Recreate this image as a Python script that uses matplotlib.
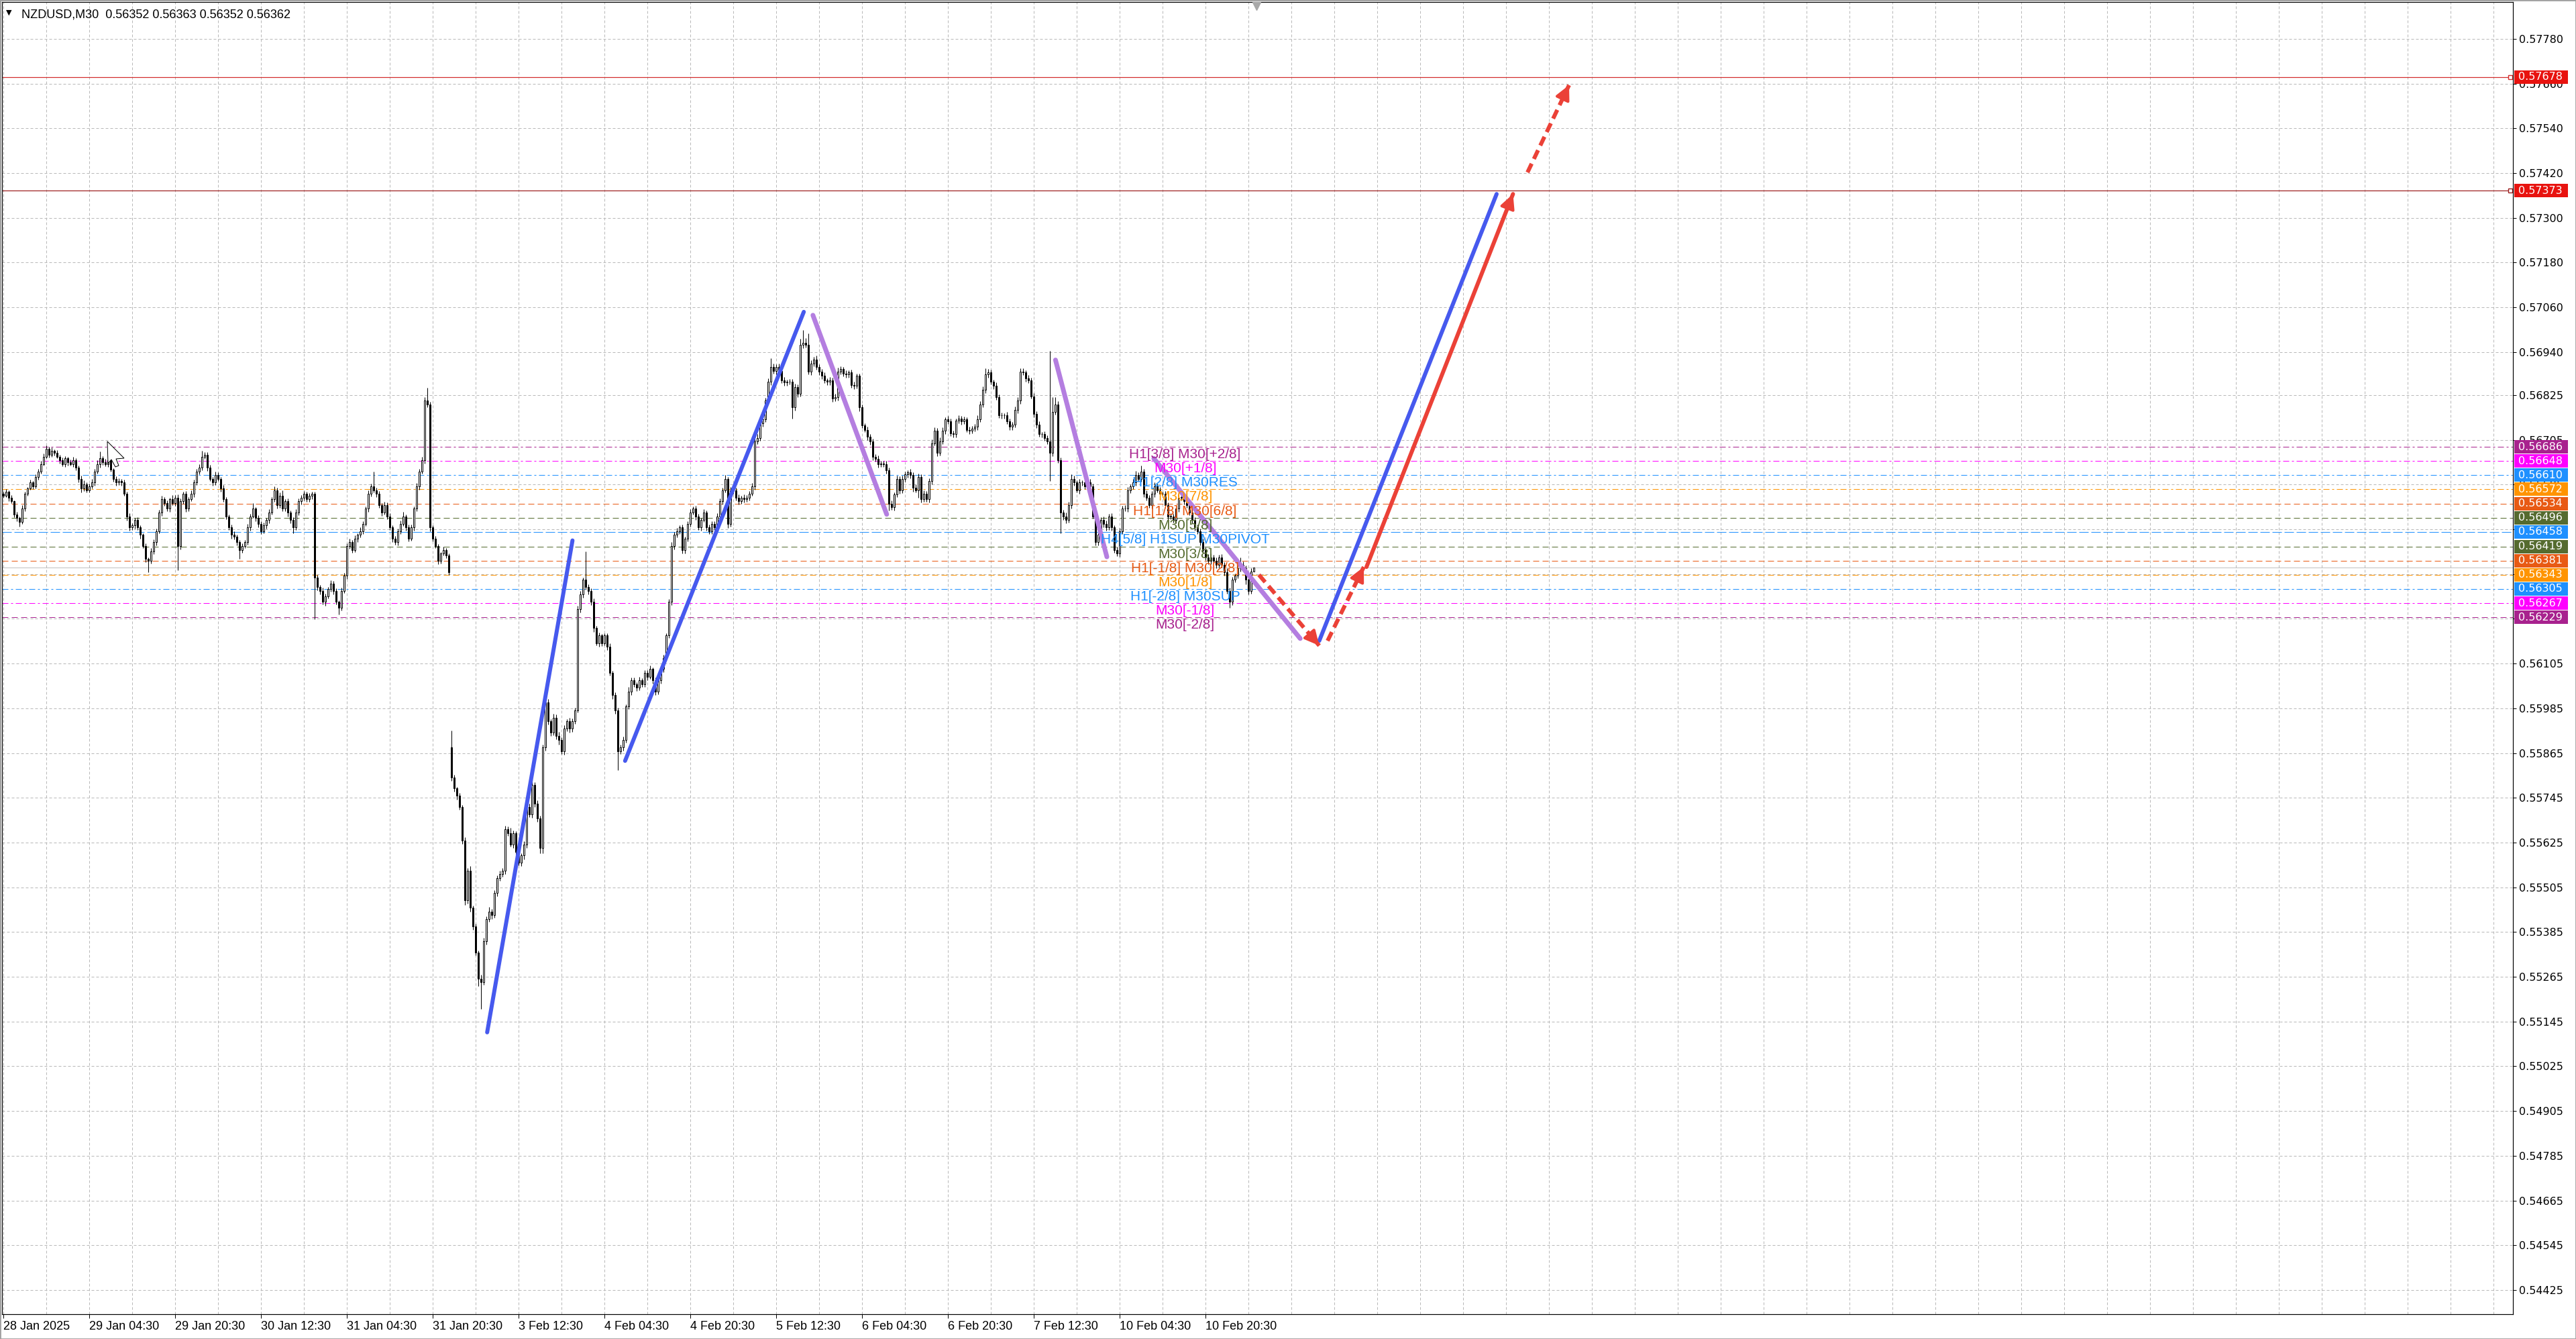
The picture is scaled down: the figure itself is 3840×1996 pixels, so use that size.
import numpy as np
import matplotlib
matplotlib.use("Agg")
import matplotlib.pyplot as plt
from matplotlib.patches import Rectangle, Polygon
from matplotlib.transforms import blended_transform_factory

# ---- data (prices in points, 1 pt = 0.00001) ----
closes_pts = [
    56555, 56565, 56550, 56540, 56505, 56495, 56485, 56520, 56560, 56575, 56590, 56580, 56605, 56620, 56640, 56660,
    56680, 56665, 56675, 56670, 56660, 56650, 56640, 56655, 56645, 56640, 56650, 56630, 56600, 56575, 56585, 56570,
    56580, 56590, 56620, 56640, 56655, 56645, 56640, 56650, 56625, 56600, 56590, 56595, 56590, 56560, 56500, 56470,
    56475, 56490, 56470, 56450, 56420, 56385, 56380, 56405, 56430, 56460, 56510, 56545, 56535, 56520, 56545, 56535,
    56550, 56420, 56540, 56560, 56520, 56545, 56560, 56590, 56620, 56630, 56660, 56665, 56630, 56600, 56590, 56610,
    56600, 56575, 56545, 56500, 56470, 56450, 56445, 56430, 56410, 56420, 56430, 56470, 56500, 56520, 56495, 56480,
    56460, 56475, 56490, 56510, 56545, 56570, 56530, 56555, 56520, 56540, 56510, 56490, 56470, 56510, 56540, 56550,
    56560, 56545, 56555, 56560, 56335, 56310, 56300, 56270, 56285, 56305, 56320, 56300, 56270, 56255, 56300, 56340,
    56420, 56430, 56410, 56440, 56450, 56460, 56480, 56520, 56560, 56580, 56570, 56560, 56530, 56510, 56530, 56500,
    56470, 56440, 56430, 56460, 56480, 56500, 56470, 56440, 56470, 56520, 56580, 56620, 56650, 56810, 56800, 56470,
    56440, 56420, 56380, 56400, 56410, 56395, 56350, 55800, 55770, 55750, 55720, 55630, 55470, 55550, 55450, 55400,
    55330, 55260, 55250, 55360, 55420, 55440, 55430, 55490, 55530, 55540, 55550, 55660, 55650, 55620, 55650, 55600,
    55570, 55590, 55620, 55720, 55700, 55780, 55730, 55690, 55610, 55880, 56000, 55950, 55920, 55960, 55910, 55900,
    55870, 55930, 55950, 55930, 55950, 55980, 56250, 56290, 56330, 56310, 56300, 56270, 56200, 56160, 56180, 56160,
    56180, 56150, 56080, 56020, 55980, 55870, 55880, 55900, 55990, 56030, 56060, 56050, 56040, 56060, 56050, 56080,
    56070, 56090, 56060, 56030, 56060, 56090, 56120, 56180, 56270, 56420, 56450, 56460, 56470, 56410, 56440, 56480,
    56510, 56520, 56500, 56470, 56490, 56510, 56470, 56460, 56480, 56470, 56500, 56540, 56570, 56600, 56480, 56570,
    56570, 56550, 56540, 56550, 56545, 56550, 56560, 56580, 56700, 56710, 56750, 56760, 56810, 56860, 56900, 56890,
    56900, 56890, 56864, 56858, 56860, 56860, 56792, 56846, 56828, 56960, 56965, 56960, 56888, 56910, 56920, 56900,
    56888, 56876, 56864, 56860, 56865, 56816, 56820, 56888, 56894, 56882, 56880, 56885, 56852, 56850, 56876, 56792,
    56744, 56732, 56714, 56700, 56660, 56654, 56640, 56642, 56640, 56624, 56534, 56525, 56558, 56600, 56570, 56600,
    56612, 56618, 56610, 56576, 56570, 56606, 56546, 56560, 56546, 56594, 56696, 56730, 56670, 56700, 56730, 56760,
    56755, 56722, 56720, 56756, 56762, 56755, 56760, 56732, 56730, 56735, 56740, 56760, 56800, 56840, 56880, 56885,
    56860, 56850, 56820, 56770, 56770, 56770, 56755, 56740, 56745, 56785, 56810, 56888, 56885, 56870, 56865, 56822,
    56775, 56745, 56720, 56720, 56710, 56700, 56670, 56780, 56800, 56650, 56510, 56500, 56490, 56530, 56600, 56590,
    56570, 56590, 56590, 56580, 56590, 56580, 56500, 56430, 56450, 56490, 56480, 56470, 56500, 56470, 56410, 56400,
    56460, 56520, 56520, 56570, 56580, 56590, 56610, 56600, 56620, 56560, 56550, 56530, 56560, 56580, 56570, 56560,
    56560, 56530, 56500, 56500, 56490, 56520, 56550, 56550, 56540, 56530, 56510, 56490, 56470, 56460, 56430, 56410,
    56390, 56380, 56390, 56380, 56370, 56390, 56370, 56350, 56300, 56270, 56330, 56340, 56360, 56370, 56360, 56330,
    56300, 56352, 56362,
]
first_open = 56560
gap_opens = {167: 55880, 466: 56352}

wick_up = [
    5, 8, 4, 6, 3, 7, 5, 9, 6, 4, 8, 5, 7, 6, 9, 8,
    10, 6, 9, 4, 7, 5, 8, 6, 4, 7, 9, 5, 6, 8, 12, 5,
    7, 9, 6, 10, 18, 6, 8, 5, 9, 4, 7, 6, 5, 8, 6, 9,
    7, 5, 8, 6, 4, 7, 5, 9, 8, 6, 7, 10, 6, 8, 5, 12,
    6, 9, 8, 5, 7, 6, 9, 8, 6, 10, 15, 7, 6, 8, 5, 9,
    7, 5, 8, 6, 4, 7, 9, 5, 6, 8, 7, 10, 6, 15, 5, 7,
    6, 8, 5, 9, 7, 10, 6, 8, 14, 5, 7, 6, 8, 9, 7, 6,
    8, 5, 7, 6, 5, 8, 6, 9, 7, 5, 8, 6, 7, 5, 9, 8,
    7, 9, 6, 8, 5, 10, 7, 6, 9, 8, 40, 6, 7, 5, 9, 6,
    8, 5, 7, 6, 9, 12, 5, 7, 8, 6, 9, 7, 10, 10, 35, 6,
    5, 7, 6, 4, 8, 5, 6, 45, 7, 5, 8, 6, 9, 7, 12, 5,
    8, 6, 10, 9, 7, 12, 6, 8, 7, 10, 6, 9, 8, 14, 7, 6,
    8, 6, 9, 7, 10, 8, 6, 9, 7, 8, 30, 9, 6, 10, 8, 12,
    7, 9, 6, 10, 8, 7, 10, 9, 6, 75, 8, 7, 9, 6, 8, 5,
    7, 6, 9, 5, 8, 6, 7, 9, 6, 12, 8, 7, 5, 9, 6, 8,
    7, 9, 5, 8, 6, 7, 9, 6, 8, 10, 7, 9, 6, 8, 5, 7,
    9, 6, 8, 7, 5, 9, 6, 8, 7, 6, 9, 8, 7, 10, 6, 8,
    7, 6, 9, 5, 8, 6, 7, 9, 8, 10, 7, 9, 8, 10, 24, 9,
    8, 10, 7, 9, 6, 8, 7, 9, 8, 15, 35, 12, 30, 9, 7, 10,
    8, 7, 9, 6, 8, 7, 9, 10, 8, 6, 9, 7, 8, 9, 6, 7,
    8, 6, 9, 7, 8, 6, 9, 7, 6, 8, 7, 9, 6, 8, 7, 9,
    8, 6, 9, 7, 10, 8, 6, 9, 7, 8, 10, 9, 7, 12, 8, 6,
    9, 7, 8, 6, 9, 7, 8, 6, 9, 7, 8, 10, 9, 8, 17, 9,
    8, 6, 9, 7, 8, 6, 9, 7, 8, 10, 9, 9, 8, 7, 9, 6,
    8, 7, 9, 6, 8, 7, 244, 40, 20, 9, 8, 7, 10, 8, 12, 9,
    7, 9, 6, 8, 7, 10, 8, 6, 9, 7, 10, 8, 7, 9, 6, 8,
    9, 7, 10, 8, 6, 9, 12, 8, 15, 7, 9, 6, 8, 10, 7, 9,
    6, 8, 7, 9, 6, 8, 10, 7, 9, 8, 6, 9, 7, 8, 6, 9,
    7, 8, 10, 6, 9, 7, 8, 6, 10, 9, 8, 7, 12, 20, 9, 8,
    7, 9, 1,
]
wick_dn = [
    6, 4, 9, 5, 7, 8, 12, 5, 7, 6, 4, 8, 5, 7, 6, 4,
    5, 7, 6, 8, 5, 9, 6, 7, 10, 5, 7, 6, 9, 12, 8, 6,
    7, 5, 8, 6, 9, 7, 6, 8, 5, 7, 9, 6, 8, 5, 12, 9,
    6, 8, 7, 10, 6, 9, 31, 7, 6, 8, 5, 9, 7, 6, 8, 5,
    7, 65, 9, 6, 8, 7, 5, 9, 6, 8, 7, 6, 9, 5, 8, 7,
    6, 9, 7, 8, 6, 10, 7, 9, 25, 8, 6, 7, 9, 5, 8, 10,
    7, 6, 9, 8, 6, 7, 9, 8, 6, 7, 10, 8, 15, 6, 7, 9,
    8, 6, 7, 9, 112, 8, 9, 7, 10, 6, 8, 9, 7, 19, 8, 6,
    9, 7, 8, 6, 9, 7, 8, 6, 9, 7, 6, 8, 7, 9, 6, 8,
    7, 9, 6, 8, 7, 6, 9, 7, 6, 8, 7, 9, 6, 8, 7, 10,
    8, 6, 9, 7, 6, 8, 7, 9, 8, 10, 7, 9, 12, 8, 10, 9,
    8, 20, 72, 7, 9, 8, 10, 7, 9, 8, 7, 9, 8, 6, 10, 9,
    7, 8, 10, 9, 6, 8, 9, 10, 14, 14, 9, 8, 10, 7, 9, 12,
    8, 9, 7, 10, 8, 6, 7, 9, 8, 7, 9, 8, 10, 7, 9, 8,
    7, 9, 8, 10, 9, 50, 8, 9, 7, 8, 10, 7, 9, 6, 8, 7,
    9, 7, 8, 10, 7, 9, 8, 7, 6, 8, 9, 7, 8, 10, 9, 7,
    8, 6, 9, 7, 8, 6, 9, 7, 8, 6, 9, 7, 8, 6, 12, 8,
    9, 7, 8, 6, 9, 7, 8, 6, 9, 7, 8, 10, 7, 9, 8, 7,
    9, 8, 7, 9, 8, 7, 30, 9, 8, 7, 9, 8, 7, 9, 8, 7,
    9, 8, 7, 9, 8, 10, 7, 9, 8, 7, 9, 8, 7, 9, 8, 10,
    8, 7, 9, 8, 10, 7, 9, 8, 7, 9, 18, 8, 10, 7, 9, 8,
    7, 9, 8, 10, 7, 20, 9, 8, 7, 9, 8, 7, 9, 8, 7, 9,
    8, 7, 9, 8, 7, 9, 8, 7, 9, 8, 7, 9, 8, 7, 9, 8,
    7, 9, 8, 7, 9, 8, 7, 9, 8, 7, 9, 8, 7, 9, 8, 7,
    9, 8, 7, 9, 8, 7, 75, 9, 8, 7, 55, 9, 8, 7, 9, 8,
    7, 9, 8, 7, 9, 8, 7, 9, 8, 7, 9, 8, 7, 9, 8, 7,
    9, 8, 7, 9, 8, 7, 9, 8, 7, 9, 8, 7, 9, 8, 7, 9,
    8, 7, 9, 8, 7, 9, 8, 7, 9, 8, 7, 9, 8, 7, 9, 8,
    7, 9, 8, 7, 9, 8, 7, 9, 8, 15, 9, 8, 7, 9, 8, 12,
    9, 8, 0,
]

# time axis labels (bar index -> text), one label every 32 M30 bars
xlabel_bars = [0, 32, 64, 96, 128, 160, 192, 224, 256, 288, 320, 352, 384, 416, 448]
xlabel_text = ["28 Jan 2025", "29 Jan 04:30", "29 Jan 20:30", "30 Jan 12:30", "31 Jan 04:30",
               "31 Jan 20:30", "3 Feb 12:30", "4 Feb 04:30", "4 Feb 20:30", "5 Feb 12:30",
               "6 Feb 04:30", "6 Feb 20:30", "7 Feb 12:30", "10 Feb 04:30", "10 Feb 20:30"]

ytick_text = ["0.57780", "0.57660", "0.57540", "0.57420", "0.57300", "0.57180", "0.57060", "0.56940",
              "0.56825", "0.56705", "0.56585", "0.56465", "0.56345", "0.56225", "0.56105", "0.55985",
              "0.55865", "0.55745", "0.55625", "0.55505", "0.55385", "0.55265", "0.55145", "0.55025",
              "0.54905", "0.54785", "0.54665", "0.54545", "0.54425"]

# murrey math levels
levels = [0.56686, 0.56648, 0.56610, 0.56572, 0.56534, 0.56496, 0.56458,
          0.56419, 0.56381, 0.56343, 0.56305, 0.56267, 0.56229]
level_names = ["H1[3/8] M30[+2/8]", "M30[+1/8]", "H1[2/8] M30RES", "M30[7/8]", "H1[1/8] M30[6/8]",
               "M30[5/8]", "H4[5/8] H1SUP M30PIVOT", "M30[3/8]", "H1[-1/8] M30[2/8]", "M30[1/8]",
               "H1[-2/8] M30SUP", "M30[-1/8]", "M30[-2/8]"]
PURP, MAG, BLU, ORA, ORR, OLV = "#a8228e", "#ff00ff", "#1e90ff", "#ff9400", "#e85a14", "#556b2f"
level_colors = [PURP, MAG, BLU, ORA, ORR, OLV, BLU, OLV, ORR, ORA, BLU, MAG, PURP]
level_dash = ["dd", "dd", "dd", "dd", "d", "d", "l", "d", "d", "d", "dd", "dd", "d"]

target_levels = [0.57678, 0.57373]
target_colors = ["#d22a2a", "#9c1c1c"]
bid = 0.56362

# hand-drawn lines: (bar, price) pairs
blue_x = [[180.3, 212.1], [231.7, 298.3], [490.4, 556.5]]
blue_y = [[0.55116, 0.56435], [0.55844, 0.57048], [0.56166, 0.57364]]
purple_x = [[301.7, 329.2], [392.1, 411.25], [428.75, 483.3]]
purple_y = [[0.57039, 0.56505], [0.56919, 0.56391], [0.56655, 0.56172]]
red_x = [[467.9, 490.4], [493.5, 507.0], [508.0, 562.6], [568.0, 583.5]]
red_y = [[0.56343, 0.56153], [0.56166, 0.56364], [0.56364, 0.57364], [0.57422, 0.57656]]
red_dashed = [True, True, False, True]

# mouse pointer left in the screenshot (pixel outline)
cursor_px = [(160, 658), (161, 691), (166, 685), (172, 696), (177, 694), (173, 684), (185, 683)]

# ---- layout ----
W, H = 3840, 1996
L, R, T, B = 3, 3746, 3, 1959
PX = 72 / 100.0

closes = np.array(closes_pts) / 1e5
n = len(closes)
opens = np.empty(n)
opens[0] = first_open / 1e5
opens[1:] = closes[:-1]
for k, v in gap_opens.items():
    opens[k] = v / 1e5
highs = np.maximum(opens, closes) + np.array(wick_up) / 1e5
lows = np.minimum(opens, closes) - np.array(wick_dn) / 1e5
xs = np.arange(n)

fig = plt.figure(figsize=(W / 100, H / 100), dpi=100)
fig.patch.set_facecolor("white")
ax = fig.add_axes([L / W, (H - B) / H, (R - L) / W, (B - T) / H])
ax.set_facecolor("white")

# price scale: 55590 px per 1.0 price, 0.54425 sits at pixel row 1923
ppx = 55590.0
ax.set_ylim(0.54425 - (B - 1923) / ppx, 0.54425 + (1923 - T) / ppx)
xmax = (R - 5) / 4.0
ax.set_xlim(-0.5, xmax)

# grid
ytick_vals = [float(s) for s in ytick_text]
GRID = "#b8b8b8"
for yv in ytick_vals:
    ax.axhline(yv, color=GRID, lw=1 * PX, dashes=(4, 3), zorder=0.5)
for xv in range(0, 930, 16):
    ax.axvline(xv, color=GRID, lw=1 * PX, dashes=(4, 3), zorder=0.5)

# bid line
ax.axhline(bid, color="#c0c0c0", lw=1 * PX, zorder=1)

# level lines
dash_map = {"d": (9, 5), "dd": (9, 4, 3, 4), "l": (14, 4)}
for lv, col, ds in zip(levels, level_colors, level_dash):
    ax.axhline(lv, color=col, lw=1 * PX, dashes=dash_map[ds], zorder=1.5)
for lv, col in zip(target_levels, target_colors):
    ax.axhline(lv, color=col, lw=1.2 * PX, zorder=1.5)
    ax.plot([(R - 9) / 4.0], [lv], marker="s", ms=4, mfc="white", mec=col, mew=1, zorder=2)

# candles
ax.vlines(xs, lows, highs, colors="black", lw=1 * PX, zorder=3)
bull = closes >= opens
bh = np.maximum(np.abs(closes - opens), 0.000004)
ax.bar(xs[bull], bh[bull], bottom=opens[bull], width=0.5, facecolor="white",
       edgecolor="black", lw=1 * PX, zorder=3.2)
ax.bar(xs[~bull], bh[~bull], bottom=closes[~bull], width=0.5, facecolor="black",
       edgecolor="black", lw=1 * PX, zorder=3.2)

# trend lines
for lx, ly in zip(blue_x, blue_y):
    ax.plot(lx, ly, color="#4659ee", lw=6 * PX, solid_capstyle="round", zorder=4)
for lx, ly in zip(purple_x, purple_y):
    ax.plot(lx, ly, color="#b47ee0", lw=7 * PX, solid_capstyle="round", zorder=4)
RED = "#eb4137"
for lx, ly, dsh in zip(red_x, red_y, red_dashed):
    if dsh:
        ax.plot(lx, ly, color=RED, lw=6 * PX, dashes=(2.4, 1.3), solid_capstyle="butt", zorder=4.2)
    else:
        ax.plot(lx, ly, color=RED, lw=6 * PX, solid_capstyle="round", zorder=4.2)
    bx = lx[1] - (lx[1] - lx[0]) * 0.04
    by = ly[1] - (ly[1] - ly[0]) * 0.04
    ax.annotate("", xy=(lx[1], ly[1]), xytext=(bx, by),
                arrowprops=dict(arrowstyle="-|>,head_length=1.3,head_width=0.65",
                                color=RED, lw=3, shrinkA=0, shrinkB=0), zorder=4.3)

# murrey labels inside chart
for lv, name, col in zip(levels, level_names, level_colors):
    ax.text(440.4, lv - 2 / ppx, name, color=col, fontsize=15, family="Liberation Sans",
            ha="center", va="top", zorder=5)

# axes styling
for s in ax.spines.values():
    s.set_color("black")
    s.set_linewidth(1.2 * PX)
ax.yaxis.tick_right()
ax.set_yticks(ytick_vals)
ax.set_yticklabels(ytick_text, fontsize=11.5, family="DejaVu Sans")
ax.tick_params(axis="y", length=5 * PX, width=1 * PX, pad=3, direction="out")
ax.set_xticks(xlabel_bars)
ax.set_xticklabels(xlabel_text, fontsize=13, family="Liberation Sans", ha="left")
ax.tick_params(axis="x", length=6 * PX, width=1 * PX, pad=3, direction="out")

# coloured price boxes on the right scale
tr = blended_transform_factory(fig.transFigure, ax.transData)
hh = 10 / ppx
for lv, col in list(zip(levels, level_colors)) + [(0.57678, "#e8130f"), (0.57373, "#e8130f")]:
    ax.add_patch(Rectangle((3748 / W, lv - hh), 80 / W, 2 * hh, transform=tr, facecolor=col,
                           edgecolor="none", clip_on=False, zorder=6))
    ax.text(3754 / W, lv, "%.5f" % lv, transform=tr, color="white", fontsize=11.5,
            family="DejaVu Sans", ha="left", va="center", clip_on=False, zorder=7)

# chart shift marker and header
ax.plot([467], [1 - 6 / (B - T)], marker="v", ms=9, color="#a8a8a8",
        transform=blended_transform_factory(ax.transData, ax.transAxes), clip_on=False, zorder=6)
fig.text(13 / W, 1 - 19 / H, "\u25bc", fontsize=8, family="DejaVu Sans", ha="center", va="center")
fig.text(32 / W, 1 - 26.5 / H, "NZDUSD,M30  0.56352 0.56363 0.56352 0.56362", fontsize=13,
         family="Liberation Sans", ha="left", va="baseline")

# mouse pointer
fig.patches.append(Polygon([(x / W, 1 - y / H) for x, y in cursor_px], closed=True,
                           transform=fig.transFigure, facecolor="white", edgecolor="black",
                           lw=1 * PX, zorder=8))

fig.patches.append(Rectangle((0, 0), 1, 1, transform=fig.transFigure, fill=False,
                             edgecolor="#a0a0a0", lw=2))

fig.savefig("out.png", dpi=100, facecolor="white")
